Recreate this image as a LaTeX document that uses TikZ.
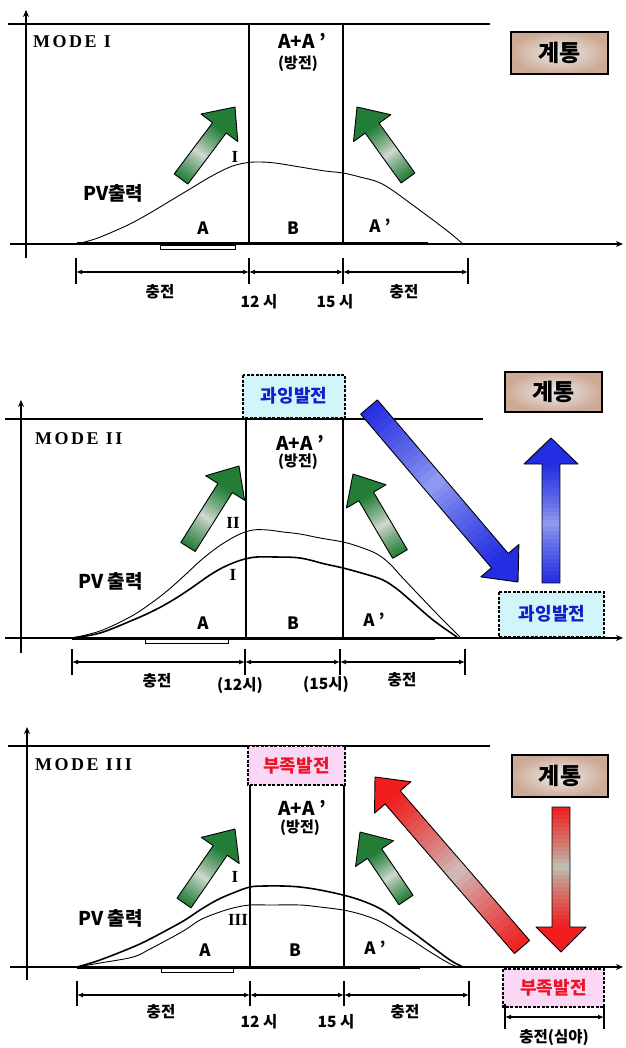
\documentclass[tikz,border=0pt]{standalone}
\usepackage{fontspec}
\setmainfont{Liberation Serif}
\newfontfamily\kr{Noto Sans CJK KR}
\newfontfamily\modef{Liberation Serif}[LetterSpace=14]
\usetikzlibrary{arrows.meta}
\definecolor{gA}{RGB}{35,125,55}
\definecolor{gMid}{RGB}{215,220,215}
\definecolor{bA}{RGB}{35,45,225}
\definecolor{bMid}{RGB}{150,160,240}
\definecolor{rA}{RGB}{240,30,30}
\definecolor{rMid}{RGB}{205,195,195}
\definecolor{rMidV}{RGB}{185,200,185}
\definecolor{tan}{RGB}{205,170,150}
\definecolor{cyanbox}{RGB}{210,245,250}
\definecolor{pinkbox}{RGB}{250,215,245}
\definecolor{txtblue}{RGB}{20,30,200}
\definecolor{txtred}{RGB}{235,20,40}
\tikzset{
  mainline/.style={line width=1.8pt},
  vline/.style={line width=1.4pt},
  axisline/.style={line width=1.6pt,-{Stealth[length=7pt,width=6pt]}},
  curvethin/.style={line width=0.9pt},
  curvethick/.style={line width=1.6pt},
  dimline/.style={line width=1.3pt,{Latex[length=6pt,width=5pt]}-{Latex[length=6pt,width=5pt]}},
  ticks/.style={line width=1.3pt},
  arrowline/.style={draw=black,line width=0.9pt,line join=round},
  modelbl/.style={font=\modef\bfseries\fontsize{18}{18}\selectfont,inner sep=0pt,anchor=west},
  romlbl/.style={font=\bfseries\fontsize{17}{17}\selectfont,inner sep=0pt},
  krlbl/.style={font=\kr\bfseries\fontsize{17}{17}\selectfont,inner sep=0pt},
  aalbl/.style={font=\kr\bfseries\fontsize{19}{19}\selectfont,inner sep=0pt},
  krmid/.style={font=\kr\bfseries\fontsize{15}{15}\selectfont,inner sep=0pt},
  krsmall/.style={font=\kr\bfseries\fontsize{15.5}{15.5}\selectfont,inner sep=0pt},
  pvlbl/.style={font=\kr\bfseries\fontsize{19}{19}\selectfont,inner sep=0pt,anchor=west},
  gridbox/.style={draw=black,line width=1.8pt,inner color=gray!15,outer color=tan},
  gridtxt/.style={font=\kr\bfseries\fontsize{23}{23}\selectfont,inner sep=0pt},
  overbox/.style={draw=black,line width=1.8pt,dash pattern=on 3pt off 1.5pt,fill=cyanbox},
  underbox/.style={draw=black,line width=1.8pt,dash pattern=on 3pt off 1.5pt,fill=pinkbox},
  overtxt/.style={font=\kr\bfseries\fontsize{18}{18}\selectfont,inner sep=0pt,text=txtblue},
  undertxt/.style={font=\kr\bfseries\fontsize{18}{18}\selectfont,inner sep=0pt,text=txtred},
}
% tail x, tail y, tip x, tip y, shaft half width, head half width, head length, end colour, middle colour
\newcommand\blockarrow[9]{%
  \pgfmathsetmacro\bdx{#3-#1}%
  \pgfmathsetmacro\bdy{#2-#4}%
  \pgfmathsetmacro\bang{atan2(\bdy,\bdx)}%
  \pgfmathsetmacro\blen{veclen(\bdx,\bdy)}%
  \pgfmathsetmacro\bneck{\blen-#7}%
  \begin{scope}[shift={(#1,#2)},rotate=\bang,x=1pt,y=1pt]
    \foreach \i in {0,...,29}{%
      \pgfmathtruncatemacro\mixv{round(100*(abs(2*(\i+0.5)/30-1))^0.8)}%
      \pgfmathsetmacro\xa{\bneck*\i/30}%
      \pgfmathsetmacro\xb{\bneck*(\i+1)/30+0.4}%
      \fill[#8!\mixv!#9] (\xa,-#5) rectangle (\xb,#5);
    }
    \fill[#8] (\bneck,-#6) -- (\blen,0) -- (\bneck,#6) -- cycle;
    \draw[arrowline] (0,-#5) -- (\bneck,-#5) -- (\bneck,-#6) -- (\blen,0) -- (\bneck,#6) -- (\bneck,#5) -- (0,#5) -- cycle;
  \end{scope}}
\begin{document}
\begin{tikzpicture}[x=1pt,y=-1pt]
\useasboundingbox[fill=white] (0,0) rectangle (625,1048);

%================ PANEL 1 =================
\draw[mainline] (8,24) -- (490,24);
\draw[axisline] (26,258) -- (26,10);
\draw[vline] (249,24) -- (249,244);
\draw[vline] (343,24) -- (343,244);
\draw[axisline] (10,244) -- (623,244);
\draw[line width=3pt] (77,244) -- (428,244);
\draw[line width=0.8pt,fill=white] (160,245.5) rectangle (235,249);
\draw[curvethin] plot[smooth,tension=0.6] coordinates {(77,244) (95,239) (110,233) (130,224) (150,213) (170,201) (190,189) (210,177) (230,167) (245,163) (258,162) (275,163) (300,167) (325,171) (343,173) (360,177) (378,182) (392,190) (410,203) (433,220) (450,233) (463,244)};
\node[modelbl] (m1) at (33,42) {MODE I};
\node[aalbl] (aa1) at (302,41) {A+A ’};
\node[krmid] (d1) at (298,64) {(방전)};
\node[romlbl] (r1) at (235,157) {I};
\node[pvlbl] (pv1) at (83,193) {PV출력};
\node[krlbl] (a1) at (203,228) {A};
\node[krlbl] (b1) at (293,228) {B};
\node[krlbl] (ap1) at (380,226) {A ’};
\coordinate (k1a) at (76,272); \coordinate (k1b) at (249,272);
\coordinate (k1c) at (343,272); \coordinate (k1d) at (468,272);
\foreach \xx in {76,249,343,468} \draw[ticks] (\xx,258) -- (\xx,284);
\draw[dimline] (k1a) -- (k1b);
\draw[dimline] (k1b) -- (k1c);
\draw[dimline] (k1c) -- (k1d);
\node[krsmall] (c1a) at (160,292) {충전};
\node[krsmall] (t1a) at (259,302) {12 시};
\node[krsmall] (t1b) at (335,302) {15 시};
\node[krsmall] (c1b) at (404,292) {충전};
\path[gridbox] (511,32) rectangle (608,74);
\node[gridtxt] (g1) at (559.5,53) {계통};
\blockarrow{181}{179}{235}{107}{8.5}{23}{26}{gA}{gMid}
\blockarrow{408}{178}{357}{107}{8.5}{23}{26}{gA}{gMid}

%================ PANEL 2 =================
\draw[mainline] (5,419) -- (483,419);
\draw[axisline] (21,653) -- (21,400);
\draw[vline] (246,419) -- (246,638);
\draw[vline] (343,419) -- (343,638);
\draw[axisline] (5,638) -- (623,638);
\draw[line width=3pt] (72,638) -- (435,638);
\draw[line width=0.8pt,fill=white] (145,639.5) rectangle (228,643);
\draw[curvethin] plot[smooth,tension=0.6] coordinates {(72,638) (100,631) (130,617) (150,604) (167,591) (185,575) (200,561) (215,549) (227,541) (240,534) (253,530) (268,530) (283,532) (300,534) (320,538) (343,542) (360,547) (377,554) (390,564) (400,575) (417,593) (440,617) (460,637)};
\draw[curvethick] plot[smooth,tension=0.6] coordinates {(72,638) (100,633) (133,620) (155,610) (173,600) (190,589) (207,577) (220,569) (233,563) (245,559) (257,557) (275,557) (300,558) (325,564) (343,568) (365,574) (383,580) (397,589) (410,600) (433,620) (457,637)};
\node[modelbl] (m2) at (35,439) {MODE II};
\node[aalbl] (aa2) at (300,443) {A+A ’};
\node[krmid] (d2) at (298,462) {(방전)};
\node[romlbl] (r2a) at (233,523) {II};
\node[romlbl] (r2b) at (233,575) {I};
\node[pvlbl] (pv2) at (78,581) {PV 출력};
\node[krlbl] (a2) at (203,623) {A};
\node[krlbl] (b2) at (293,623) {B};
\node[krlbl] (ap2) at (374,620) {A ’};
\coordinate (k2a) at (72,662); \coordinate (k2b) at (245,662);
\coordinate (k2c) at (340,662); \coordinate (k2d) at (465,662);
\foreach \xx in {72,245,340,465} \draw[ticks] (\xx,649) -- (\xx,675);
\draw[dimline] (k2a) -- (k2b);
\draw[dimline] (k2b) -- (k2c);
\draw[dimline] (k2c) -- (k2d);
\node[krsmall] (c2a) at (157,681) {충전};
\node[krsmall] (t2a) at (240,686) {(12시)};
\node[krsmall] (t2b) at (326,685) {(15시)};
\node[krsmall] (c2b) at (402,680) {충전};
\path[gridbox] (505,372) rectangle (602,412);
\node[gridtxt] (g2) at (553.5,392) {계통};
\path[overbox] (243,375) rectangle (345,418);
\node[overtxt] (o2a) at (294,396) {과잉발전};
\path[overbox] (499,592) rectangle (604,637);
\node[overtxt] (o2b) at (552,614) {과잉발전};
\blockarrow{188}{547}{239}{466}{8.5}{23}{26}{gA}{gMid}
\blockarrow{400}{554}{353}{474}{8.5}{23}{26}{gA}{gMid}
\blockarrow{369}{407}{518}{582}{11}{25}{28}{bA}{bMid}
\blockarrow{551}{583}{551}{438}{9}{27}{26}{bA}{bMid}

%================ PANEL 3 =================
\draw[mainline] (8,746) -- (490,746);
\draw[axisline] (27,980) -- (27,727);
\draw[vline] (250,746) -- (250,967);
\draw[vline] (344,746) -- (344,967);
\draw[axisline] (10,967) -- (623,967);
\draw[line width=3pt] (77,967) -- (420,967);
\draw[line width=0.8pt,fill=white] (161,968.5) rectangle (233,972);
\draw[curvethin] plot[smooth,tension=0.6] coordinates {(77,967) (100,963) (133,957) (150,949) (167,940) (185,930) (200,920) (217,913) (233,908) (250,905) (270,905) (300,905) (320,907) (343,910) (360,914) (377,920) (390,927) (400,933) (415,942) (427,950) (445,961) (455,966) (463,967)};
\draw[curvethick] plot[smooth,tension=0.6] coordinates {(77,967) (100,960) (133,947) (150,939) (167,930) (185,920) (200,910) (217,900) (233,893) (250,887) (265,886) (283,886) (300,887) (320,890) (343,895) (360,900) (377,907) (390,915) (400,923) (415,934) (427,943) (450,960) (463,967)};
\node[modelbl] (m3) at (35,765) {MODE III};
\node[aalbl] (aa3) at (302,808) {A+A ’};
\node[krmid] (d3) at (300,828) {(방전)};
\node[romlbl] (r3a) at (235,877) {I};
\node[romlbl] (r3b) at (238,920) {III};
\node[pvlbl] (pv3) at (78,918) {PV 출력};
\node[krlbl] (a3) at (205,950) {A};
\node[krlbl] (b3) at (295,950) {B};
\node[krlbl] (ap3) at (375,948) {A ’};
\coordinate (k3a) at (77,995); \coordinate (k3b) at (250,995);
\coordinate (k3c) at (344,995); \coordinate (k3d) at (469,995);
\foreach \xx in {77,250,344,469} \draw[ticks] (\xx,981) -- (\xx,1006);
\draw[dimline] (k3a) -- (k3b);
\draw[dimline] (k3b) -- (k3c);
\draw[dimline] (k3c) -- (k3d);
\node[krsmall] (c3a) at (161,1012) {충전};
\node[krsmall] (t3a) at (259,1022) {12 시};
\node[krsmall] (t3b) at (336,1022) {15 시};
\node[krsmall] (c3b) at (405,1012) {충전};
\path[gridbox] (512,755) rectangle (608,797);
\node[gridtxt] (g3) at (560,776) {계통};
\path[underbox] (248,746) rectangle (345,785);
\node[undertxt] (u3a) at (296.5,765.5) {부족발전};
\path[underbox] (503,969) rectangle (604,1007);
\node[undertxt] (u3b) at (553.5,988) {부족발전};
\coordinate (k3e) at (505,1017); \coordinate (k3f) at (604,1017);
\foreach \xx in {505,604} \draw[ticks] (\xx,1004) -- (\xx,1029);
\draw[dimline] (k3e) -- (k3f);
\node[krsmall] (c3c) at (554,1038) {충전(심야)};
\blockarrow{184}{903}{235}{829}{8.5}{23}{26}{gA}{gMid}
\blockarrow{406}{900}{360}{832}{8.5}{23}{26}{gA}{gMid}
\blockarrow{522}{947}{375}{777}{10}{24}{27}{rA}{rMid}
\blockarrow{561}{807}{561}{952}{9}{25}{25}{rA}{rMidV}
\end{tikzpicture}
\end{document}
